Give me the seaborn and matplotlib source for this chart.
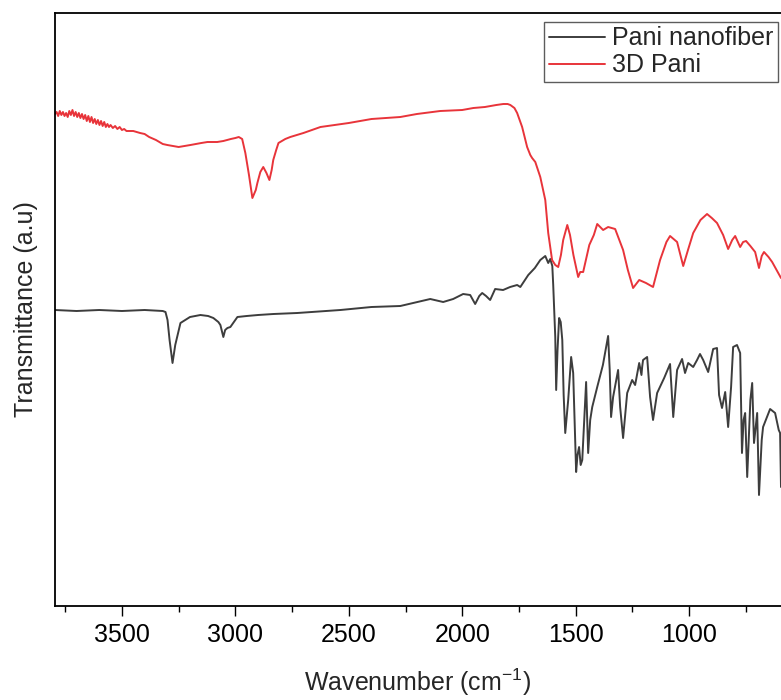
import numpy as np
import pandas as pd
import matplotlib
matplotlib.use("Agg")
import matplotlib.pyplot as plt
import seaborn as sns
from matplotlib.ticker import MultipleLocator
from matplotlib.lines import Line2D

# ---- data (wavenumber, transmittance in arbitrary units) ----
red_wn = [3795, 3788, 3781, 3774, 3767, 3760, 3753, 3746, 3739, 3732, 3725, 3718, 3711,
          3704, 3697, 3690, 3683, 3676, 3669, 3662, 3655, 3648, 3641, 3634, 3627, 3620,
          3613, 3606, 3599, 3592, 3585, 3578, 3571, 3564, 3557, 3550, 3540, 3530, 3520,
          3510, 3500, 3490, 3480, 3450, 3420, 3400, 3380, 3350, 3320, 3300, 3250, 3198,
          3150, 3123, 3080, 3053,
          3020, 3000, 2985, 2970, 2956, 2940, 2925, 2910, 2903, 2890, 2877, 2863, 2850,
          2840, 2833, 2820, 2810, 2780, 2758, 2700, 2625, 2500, 2400, 2273, 2200, 2097,
          2000, 1951, 1900, 1850, 1819, 1800, 1788, 1770, 1758, 1736, 1714, 1700, 1692,
          1678, 1656, 1634, 1621, 1604, 1590, 1577, 1565, 1555, 1537, 1525, 1510, 1489,
          1480, 1467, 1440, 1420, 1405, 1379, 1357, 1326, 1291, 1270, 1247, 1220, 1190,
          1159, 1128, 1100, 1084, 1053, 1026, 1005, 982, 950, 921, 900, 877, 850, 828,
          810, 797, 775, 762, 749, 730, 709, 692, 680, 670, 650, 634, 595]
red_px = [114, 112, 116, 111, 115, 112, 116, 113, 117, 111, 115, 110, 116,
          112, 117, 113, 118, 114, 119, 115, 121, 116, 122, 117, 123, 119,
          124, 120, 125, 121, 126, 122, 127, 124, 127, 125, 128, 126, 129,
          127, 130, 129, 131, 131, 133, 134, 137, 140, 144, 145, 147, 145,
          143, 142, 142, 141,
          139, 138, 137, 139, 153, 175, 198, 190, 183, 172, 167, 173, 180,
          170, 160, 150, 143, 139, 137, 133, 127, 123, 119, 117, 114, 111,
          110, 108, 107, 105, 104, 104, 105, 108, 113, 127, 147, 155, 158,
          162, 177, 200, 233, 260, 265, 267, 255, 240, 225, 235, 255, 277,
          272, 272, 245, 235, 224, 230, 227, 229, 250, 270, 288, 280, 283,
          287, 260, 242, 236, 242, 266, 250, 233, 220, 214, 218, 223, 235, 249,
          240, 236, 247, 242, 241, 246, 252, 268, 256, 252, 257, 262, 278]

black_wn = [3795, 3700, 3600, 3500, 3400, 3320, 3308, 3299, 3290, 3277, 3265, 3242, 3200,
            3154, 3120, 3097, 3075, 3066, 3053, 3045, 3035, 3022, 2991, 2950, 2900, 2832,
            2727, 2600, 2537, 2400, 2273, 2141, 2084, 2040, 1996, 1965, 1943, 1925, 1912,
            1895, 1877, 1855, 1820, 1789, 1758, 1744, 1709, 1680, 1656, 1634,
            1621, 1612, 1603, 1599, 1590, 1586, 1580, 1573, 1566, 1559, 1553, 1546, 1533,
            1520, 1511, 1498, 1492, 1485, 1478, 1471, 1454, 1445, 1436, 1427, 1405, 1380,
            1357, 1350, 1344, 1335, 1313, 1304, 1291, 1273, 1251, 1238, 1220, 1210, 1207,
            1203, 1185, 1172, 1159, 1141, 1110, 1084, 1070, 1053, 1031, 1018, 1004, 982,
            965, 952, 938, 916, 894, 877, 868, 855, 841, 828, 815, 806, 789, 775, 767,
            760, 753, 744, 730, 722, 714, 700, 692, 680, 674, 643, 621, 605, 599, 595]
black_px = [310, 311, 310, 311, 310, 311, 312, 320, 340, 363, 345, 323, 317,
            315, 316, 318, 322, 325, 337, 330, 328, 327, 317, 316, 315, 314,
            313, 311, 310, 307, 306, 299, 302, 299, 294, 295, 304, 296, 293,
            296, 300, 289, 290, 287, 285, 287, 275, 268, 260, 256,
            263, 259, 266, 285, 337, 390, 350, 318, 322, 340, 395, 433, 400,
            357, 373, 472, 455, 447, 465, 460, 382, 453, 420, 407, 387, 365,
            336, 370, 417, 397, 370, 407, 438, 393, 380, 385, 363, 375, 367,
            360, 357, 397, 420, 393, 378, 364, 417, 370, 359, 373, 363, 367,
            360, 354, 360, 372, 349, 348, 395, 408, 392, 427, 387, 347, 345, 353, 453,
            420, 413, 477, 400, 383, 443, 413, 495, 440, 427, 409, 413, 430, 433, 487]

labels = ["Pani nanofiber", "3D Pani"]
colors = ["#3d3d3d", "#e8343a"]

# convert picture height to arbitrary transmittance units (0 at axis bottom)
black_t = [606 - v for v in black_px]
red_t = [606 - v for v in red_px]

df = pd.concat([
    pd.DataFrame({"Wavenumber": black_wn, "T": black_t, "Sample": labels[0]}),
    pd.DataFrame({"Wavenumber": red_wn, "T": red_t, "Sample": labels[1]}),
], ignore_index=True)

sns.set_style("white")
plt.rcParams["font.family"] = ["Liberation Sans", "DejaVu Sans"]
plt.rcParams["mathtext.fontset"] = "custom"
plt.rcParams["mathtext.rm"] = "Liberation Sans"
plt.rcParams["mathtext.it"] = "Liberation Sans:italic"

fig = plt.figure(figsize=(7.81, 7.00), dpi=100)
ax = fig.add_axes([55 / 781, 1 - 606 / 700, 726 / 781, 593 / 700])

sns.lineplot(data=df, x="Wavenumber", y="T", hue="Sample", palette=colors,
             sort=False, estimator=None, linewidth=1.4, ax=ax, legend=False)

ax.set_xlim(3795, 595)
ax.set_ylim(0, 593)
ax.xaxis.set_major_locator(MultipleLocator(500))
ax.xaxis.set_minor_locator(MultipleLocator(250))
ax.set_yticks([])
ax.tick_params(axis="x", which="major", direction="out", length=7.5, width=1.0,
               labelsize=18, pad=5, bottom=True, colors="black")
ax.tick_params(axis="x", which="minor", direction="out", length=4.5, width=1.0,
               bottom=True, colors="black")
for side in ["left", "bottom", "top"]:
    ax.spines[side].set_color("black")
    ax.spines[side].set_linewidth(1.3)
ax.spines["right"].set_visible(False)

ax.set_xlabel("Wavenumber (cm$^{-1}$)", fontsize=18, labelpad=14)
ax.set_ylabel("Transmittance (a.u)", fontsize=18, labelpad=12)

handles = [Line2D([], [], color=c, lw=1.4) for c in colors]
leg = ax.legend(handles, labels, loc="upper right", bbox_to_anchor=(0.9959, 0.9848),
                borderaxespad=0, fontsize=18, frameon=True, fancybox=False,
                handlelength=2.25, handletextpad=0.3, labelspacing=0.12,
                borderpad=0.17, edgecolor="#333333")
leg.get_frame().set_linewidth(1.0)

fig.savefig("out.png", dpi=100)
